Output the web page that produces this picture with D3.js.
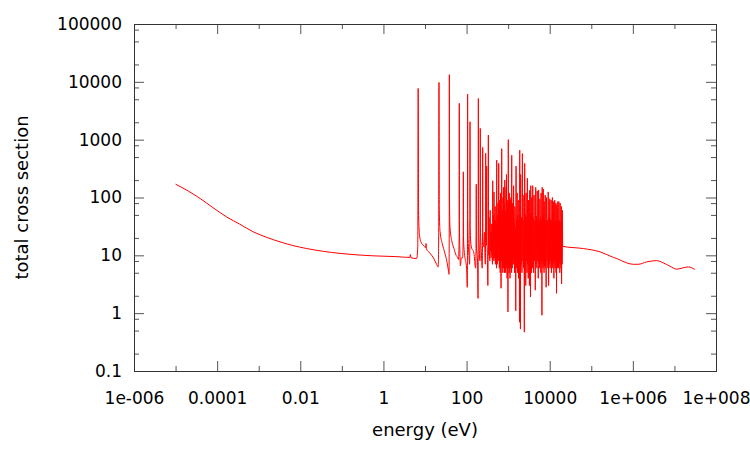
<!DOCTYPE html>
<html>
<head>
<meta charset="utf-8">
<script src="https://cdn.jsdelivr.net/npm/d3@7"></script>
<style>
    body { margin: 0; background: #fff; }
    svg { display: block; }
    text { font-family: "DejaVu Sans", Verdana, sans-serif; fill: #000; }
</style>
</head>
<body>
<div id="chart"></div>
<script>

// Tick values and labels
const xMajor = [1e-6, 1e-4, 1e-2, 1, 1e2, 1e4, 1e6, 1e8];
const xMajorLabels = ["1e-006", "0.0001", "0.01", "1", "100", "10000", "1e+006", "1e+008"];
const xMinor = [1e-5, 1e-3, 0.1, 10, 1e3, 1e5, 1e7];
const yMajor = [0.1, 1, 10, 100, 1000, 10000, 100000];
const yMajorLabels = ["0.1", "1", "10", "100", "1000", "10000", "100000"];
const yMinor = [0.2, 0.5, 0.8, 2, 5, 8, 20, 50, 80, 200, 500, 800,
                2000, 5000, 8000, 20000, 50000, 80000];

// Thermal region [energy, cross section]
const thermal = [
    [1e-5, 170], [2e-5, 130], [3.9e-5, 96], [7.9e-5, 67], [1.7e-4, 46], [3.5e-4, 34.6],
    [7.4e-4, 25.5], [1.57e-3, 20.4], [3.25e-3, 17.1], [6.6e-3, 14.8], [0.0143, 13.1],
    [0.09, 10.8], [0.57, 9.8], [2.0, 9.5], [4.3, 9.2]
];

// Resolved resonances
const resolved = [
    [4.45, 10.3], [4.6, 9.1], [6.3, 8.8], [6.7, 14], [6.85, 7700], [7.0, 60], [7.3, 24],
    [8, 17], [9.5, 14.5], [10.4, 13.5], [10.6, 16], [10.8, 13], [13, 11], [16, 9], [19, 7],
    [20.8, 6.3], [21.4, 30], [21.7, 9800], [22.0, 70], [23, 26], [26, 16], [30, 11],
    [34, 7.5], [37, 5.2], [37.8, 4.7], [38.3, 40], [38.5, 13300], [38.8, 90], [40, 30],
    [44, 18], [50, 13], [56, 10], [60, 9.4], [64, 8.5], [66.3, 20], [66.8, 4250],
    [67.3, 40], [69, 12], [71, 6.6], [75, 9], [80, 9], [83, 20], [83.6, 278], [84.3, 20],
    [90, 10], [100, 6], [104, 2.8], [105.6, 40], [106, 6150], [106.5, 60], [110, 16],
    [115, 9], [118, 7], [120.5, 40], [121, 2040], [121.6, 30], [130, 14], [150, 11],
    [165, 6], [170, 20], [171, 170], [172, 15], [183, 8], [189, 1.8], [191, 40],
    [192, 5170], [193, 50], [200, 16], [210, 8], [213, 40], [214, 1570], [215, 30],
    [225, 13], [238, 6], [243, 30], [244, 735], [246, 20], [260, 14], [270, 25], [275, 12],
    [283, 7], [287, 30], [288, 580], [290, 20], [300, 15], [304, 30], [305, 349], [307, 18],
    [315, 12], [325, 3.0], [332, 40], [334, 1200], [337, 30], [342, 10], [348, 45],
    [355, 12], [362, 8], [370, 60], [375, 12], [382, 25], [388, 9], [395, 35], [400, 11],
    [408, 20], [414, 8], [420, 7], [426, 195], [430, 14], [437, 30], [445, 9], [451, 50],
    [454, 8], [457, 125], [462, 16], [470, 40], [475, 9], [480, 11], [488, 70], [494, 7],
    [500, 40], [505, 12], [510, 9], [518, 30], [525, 6], [531, 443], [537, 18], [545, 35],
    [550, 7], [555, 10], [562, 50], [566, 9], [570, 80], [575, 12], [580, 8], [587, 40],
    [593, 390], [600, 15], [607, 45], [613, 6], [620, 8], [628, 90], [634, 7], [640, 60],
    [645, 5], [650, 12], [657, 120], [663, 8], [669, 35], [675, 2.7], [682, 55], [690, 30],
    [695, 8], [700, 700], [705, 9], [710, 20], [718, 45], [724, 6], [730, 10], [740, 60],
    [745, 5], [750, 100], [757, 8], [765, 9], [772, 150], [780, 6], [790, 40], [797, 9],
    [805, 7], [812, 80], [820, 5], [830, 200], [838, 8], [845, 12], [852, 60], [860, 7],
    [870, 5], [878, 45], [884, 8], [890, 150], [897, 6], [905, 18], [912, 250], [920, 7],
    [930, 9], [940, 50], [945, 4], [950, 70], [958, 8], [965, 40], [970, 6], [978, 90],
    [984, 5], [990, 1.05], [1000, 60], [1005, 8], [1009, 1000], [1015, 7], [1020, 20],
    [1030, 55], [1038, 6], [1045, 8], [1055, 80], [1062, 5], [1070, 120], [1078, 7],
    [1085, 45], [1090, 12], [1100, 60], [1105, 6], [1110, 4], [1120, 90], [1128, 7],
    [1135, 40], [1140, 80], [1150, 6], [1160, 10], [1168, 100], [1175, 7], [1183, 40],
    [1190, 6], [1200, 70], [1210, 5], [1219, 540], [1228, 8], [1235, 45], [1240, 14],
    [1250, 60], [1258, 6], [1270, 9], [1280, 80], [1290, 7]
];

// Dense resonance band (energies, cross sections)
const denseE = [
    1300, 1325, 1350, 1375, 1400, 1425, 1450, 1475, 1500, 1525, 1550, 1575, 1600, 1625,
    1650, 1675, 1700, 1725, 1750, 1775, 1800, 1825, 1850, 1875, 1900, 1925, 1950, 1975,
    2000, 2050, 2100, 2150, 2200, 2250, 2300, 2350, 2400, 2450, 2500, 2550, 2600, 2650,
    2700, 2750, 2800, 2850, 2900, 2950, 3000, 3050, 3100, 3150, 3200, 3250, 3300, 3350,
    3400, 3450, 3500, 3550, 3600, 3650, 3700, 3750, 3800, 3850, 3900, 3950,
    4000, 4100, 4200, 4300, 4400, 4500, 4600, 4700, 4800, 4900, 5000, 5100, 5200, 5300,
    5400, 5500, 5600, 5700, 5800, 5900, 6000, 6100, 6200, 6300, 6400, 6500, 6600, 6700,
    6800, 6900, 7000, 7100, 7200, 7300, 7400, 7500, 7600, 7700, 7800, 7900,
    8000, 8200, 8400, 8600, 8800, 9000, 9200, 9400, 9600, 9800, 10000, 10200, 10400,
    10600, 10800, 11000, 11200, 11400, 11600, 11800, 12000, 12200, 12400, 12600, 12800,
    13000, 13200, 13400, 13600, 13800, 14000, 14200, 14400, 14600, 14800, 15000, 15200,
    15400, 15600, 15800,
    16000, 16300, 16600, 16900, 17200, 17500, 17800, 18100, 18400, 18700, 19000, 19300,
    19600, 19900, 20200
];
const denseXS = [
    45, 7, 160, 9, 38, 5, 70, 8, 30, 1.1, 350, 6, 42, 8,
    120, 5, 50, 7, 35, 4, 90, 8, 40, 0.7, 660, 6, 48, 0.53,
    250, 7, 45, 5, 575, 8, 40, 6, 110, 0.47, 390, 7, 52, 3,
    120, 8, 45, 5, 215, 7, 48, 4, 90, 8, 40, 3, 133, 6,
    50, 1.9, 160, 7.5, 55, 5, 100, 8, 42, 6, 160, 7,
    45, 5, 110, 8, 40, 2.5, 150, 7, 48, 6, 130, 8, 42, 4,
    135, 7.5, 40, 6, 95, 8, 45, 5, 120, 7, 40, 0.92, 150, 8,
    50, 6, 140, 7, 45, 5, 85, 6.5, 42, 8, 110, 6,
    38, 2.8, 100, 8, 40, 6, 125, 3, 45, 7, 95, 6, 42,
    8, 90, 5, 40, 7.5, 100, 6, 38, 7, 85, 4, 42,
    8, 90, 6, 36, 7, 80, 5, 40, 2.2, 75, 7, 45,
    6, 85, 8,
    38, 6, 85, 7.5, 40, 5, 80, 7, 38, 6, 70, 3.2,
    42, 7, 60
];

// Fast region
const fast = [
    [20500, 14.3], [64300, 13.1], [162000, 11.5], [340000, 9.2], [410000, 8.8],
    [710000, 7.4], [1020000, 7.0], [1350000, 7.0], [2150000, 7.7], [3750000, 8.1],
    [5400000, 7.4], [7800000, 6.5], [11300000, 5.75], [16400000, 6.1],
    [21600000, 6.3], [31000000, 5.7]
];

const points = thermal
    .concat(resolved)
    .concat(denseE.map((e, i) => [e, denseXS[i]]))
    .concat(fast);

// Plot area
const W = 750, H = 450;
const margin = { top: 24, right: 34, bottom: 79, left: 134 };
const width = W - margin.left - margin.right;
const height = H - margin.top - margin.bottom;

const svg = d3.select("#chart")
    .append("svg")
    .attr("width", W)
    .attr("height", H);

const g = svg.append("g")
    .attr("transform", `translate(${margin.left}, ${margin.top})`);

// Scales
const x = d3.scaleLog()
    .domain([1e-6, 1e8])
    .range([0, width]);
const y = d3.scaleLog()
    .domain([0.1, 1e5])
    .range([height, 0]);

// Axes: major and minor ticks point inward on all four sides
function styleAxis(sel) {
    sel.select(".domain").remove();
    sel.selectAll(".tick line").attr("stroke", "#555");
    sel.selectAll(".tick text")
        .style("font-size", "17px")
        .attr("fill", "#000");
}

g.append("g")
    .attr("transform", `translate(0, ${height})`)
    .call(d3.axisBottom(x).tickValues(xMajor).tickSize(-10).tickPadding(21)
        .tickFormat((d, i) => xMajorLabels[i]))
    .call(styleAxis);
g.append("g")
    .attr("transform", `translate(0, ${height})`)
    .call(d3.axisBottom(x).tickValues(xMinor).tickSize(-5).tickFormat(""))
    .call(styleAxis);
g.append("g")
    .call(d3.axisTop(x).tickValues(xMajor).tickSize(-10).tickFormat(""))
    .call(styleAxis);
g.append("g")
    .call(d3.axisTop(x).tickValues(xMinor).tickSize(-5).tickFormat(""))
    .call(styleAxis);

g.append("g")
    .call(d3.axisLeft(y).tickValues(yMajor).tickSize(-10).tickPadding(12)
        .tickFormat((d, i) => yMajorLabels[i]))
    .call(styleAxis);
g.append("g")
    .call(d3.axisLeft(y).tickValues(yMinor).tickSize(-5).tickFormat(""))
    .call(styleAxis);
g.append("g")
    .attr("transform", `translate(${width}, 0)`)
    .call(d3.axisRight(y).tickValues(yMajor).tickSize(-10).tickFormat(""))
    .call(styleAxis);
g.append("g")
    .attr("transform", `translate(${width}, 0)`)
    .call(d3.axisRight(y).tickValues(yMinor).tickSize(-5).tickFormat(""))
    .call(styleAxis);

// Border
g.append("rect")
    .attr("x", 0.5)
    .attr("y", 0.5)
    .attr("width", width)
    .attr("height", height)
    .attr("fill", "none")
    .attr("stroke", "#333")
    .attr("stroke-width", 1);

// Clip and draw the curve
g.append("clipPath")
    .attr("id", "clip")
    .append("rect")
    .attr("width", width)
    .attr("height", height);

const line = d3.line()
    .curve(d3.curveMonotoneX)
    .x((d) => x(d[0]))
    .y((d) => y(d[1]));

g.append("path")
    .datum(points)
    .attr("clip-path", "url(#clip)")
    .attr("d", line)
    .attr("fill", "none")
    .attr("stroke", "#ff0000")
    .attr("stroke-width", 1);

// Axis titles
svg.append("text")
    .attr("x", margin.left + width / 2)
    .attr("y", 436)
    .attr("text-anchor", "middle")
    .style("font-size", "18px")
    .text("energy (eV)");

svg.append("text")
    .attr("transform", `translate(28, ${margin.top + height / 2}) rotate(-90)`)
    .attr("text-anchor", "middle")
    .style("font-size", "18px")
    .text("total cross section");

</script>
</body>
</html>
